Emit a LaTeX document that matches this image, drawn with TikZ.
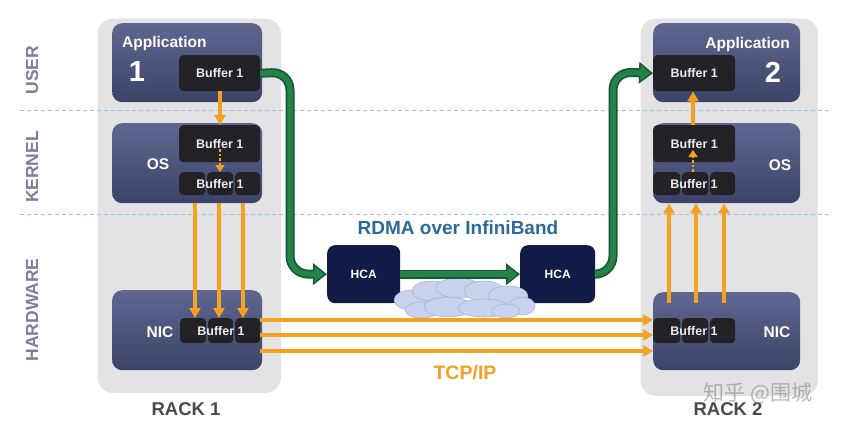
\documentclass[tikz,border=0pt]{standalone}
\usepackage{fontspec}
\setmainfont{Liberation Sans}
\newfontfamily\cjk{Noto Sans CJK SC}
\usetikzlibrary{arrows.meta,calc}
\definecolor{rackgray}{HTML}{E3E3E5}
\definecolor{boxtop}{HTML}{5F6791}
\definecolor{boxbot}{HTML}{3C4367}
\definecolor{bufc}{HTML}{232327}
\definecolor{hcac}{HTML}{121B46}
\definecolor{orng}{HTML}{F3A11E}
\definecolor{gdark}{HTML}{145A35}
\definecolor{glight}{HTML}{25834A}
\definecolor{dashc}{HTML}{A3C0D4}
\definecolor{layerc}{HTML}{7B7F9A}
\definecolor{rdmac}{HTML}{2D6A9A}
\definecolor{rackc}{HTML}{4A4A4A}
\definecolor{cloudf}{HTML}{CBD2EE}
\definecolor{cloudd}{HTML}{A8B2DA}
\begin{document}
\begin{tikzpicture}[x=1pt,y=-1pt,
  rack/.style={fill=rackgray, draw=white, line width=1.5pt, rounded corners=16pt, anchor=north west, inner sep=0pt},
  layerbox/.style={rounded corners=10pt, top color=boxtop, bottom color=boxbot, draw=none, anchor=north west, inner sep=0pt},
  buftext/.style={text=white!92!black, font=\bfseries\fontsize{12.5}{12.5}\selectfont, inner sep=0pt},
  bufbox/.style={fill=bufc, rounded corners=4pt, anchor=north west, inner sep=0pt, buftext},
  hcabox/.style={fill=hcac, rounded corners=8pt, anchor=north west, inner sep=0pt, text=white, font=\bfseries\fontsize{12}{12}\selectfont},
  wlabel/.style={text=white, font=\bfseries\fontsize{15.5}{15.5}\selectfont, inner sep=0pt},
  numlabel/.style={text=white, font=\bfseries\fontsize{29}{29}\selectfont, inner sep=0pt},
  layerlabel/.style={text=layerc, font=\bfseries\fontsize{17.5}{17.5}\selectfont, rotate=90, inner sep=0pt},
  racklabel/.style={text=rackc, font=\bfseries\fontsize{18.5}{18.5}\selectfont, inner sep=0pt},
  oarrow/.style={draw=orng, line width=3.4pt, -{Triangle[length=10pt,width=11pt]}},
  odot/.style={draw=orng, line width=2.6pt, dotted, -{Triangle[length=7pt,width=9pt]}},
  gouter/.style={draw=gdark, line width=9pt, rounded corners=18pt, -{Triangle[length=14pt,width=21pt]}},
  ginner/.style={draw=glight, line width=5.5pt, rounded corners=18pt, shorten >=2.5pt, -{Triangle[length=10pt,width=15pt]}},
  dashline/.style={draw=dashc, line width=0.9pt, dash pattern=on 4pt off 3pt},
  puff/.style={fill=cloudf, draw=cloudd, line width=0.6pt}
]
\useasboundingbox (0,0) rectangle (843,447);
\fill[white] (0,0) rectangle (843,447);

% racks
\node[rack, minimum width=185pt, minimum height=376pt] (rack1) at (96,17) {};
\node[rack, minimum width=179pt, minimum height=379pt] (rack2) at (639,17) {};

% dashed layer lines
\coordinate (d1a) at (20,110); \coordinate (d1b) at (830,110);
\coordinate (d2a) at (20,214); \coordinate (d2b) at (830,214);
\draw[dashline] (d1a) -- (d1b);
\draw[dashline] (d2a) -- (d2b);

% layer labels
\node[layerlabel] (luser) at (32,70) {USER};
\node[layerlabel] (lkernel) at (32,167) {KERNEL};
\node[layerlabel] (lhw) at (32,310) {HARDWARE};

% ---------- Rack 1 ----------
\node[layerbox, minimum width=150pt, minimum height=79pt] (app1) at (112,23) {};
\node[layerbox, minimum width=150pt, minimum height=80pt] (os1) at (112,123) {};
\node[layerbox, minimum width=150pt, minimum height=80pt] (nic1) at (112,290) {};
\node[wlabel, anchor=west] (app1t) at (122,43) {Application};
\node[numlabel] (app1n) at (137,72) {1};
\node[wlabel] (os1t) at (158,164) {OS};
\node[wlabel] (nic1t) at (160,332) {NIC};
\node[bufbox, minimum width=81pt, minimum height=36pt] (ab1) at (179,55) {Buffer 1};
\node[bufbox, minimum width=81pt, minimum height=37pt] (ob1) at (179,125) {Buffer 1};
\node[bufbox, minimum width=26pt, minimum height=23pt] (os11) at (179,172) {};
\node[bufbox, minimum width=26pt, minimum height=23pt] (os12) at (207,172) {};
\node[bufbox, minimum width=25pt, minimum height=23pt] (os13) at (235,172) {};
\node[buftext] (os1bt) at (220,184) {Buffer 1};
\node[bufbox, minimum width=26pt, minimum height=25pt] (nb11) at (180,318) {};
\node[bufbox, minimum width=25pt, minimum height=25pt] (nb12) at (208,318) {};
\node[bufbox, minimum width=25pt, minimum height=25pt] (nb13) at (235,318) {};
\node[buftext] (nb1t) at (221,331) {Buffer 1};
\node[racklabel] (r1t) at (186,409) {RACK 1};

% ---------- Rack 2 ----------
\node[layerbox, minimum width=147pt, minimum height=79pt] (app2) at (653,23) {};
\node[layerbox, minimum width=147pt, minimum height=80pt] (os2) at (653,123) {};
\node[layerbox, minimum width=147pt, minimum height=78pt] (nic2) at (653,292) {};
\node[wlabel, anchor=east] (app2t) at (790,44) {Application};
\node[numlabel] (app2n) at (773,72) {2};
\node[wlabel] (os2t) at (780,165) {OS};
\node[wlabel] (nic2t) at (777,332) {NIC};
\node[bufbox, minimum width=82pt, minimum height=36pt] (ab2) at (653,55) {Buffer 1};
\node[bufbox, minimum width=82pt, minimum height=37pt] (ob2) at (653,125) {Buffer 1};
\node[bufbox, minimum width=27pt, minimum height=23pt] (os21) at (653,172) {};
\node[bufbox, minimum width=26pt, minimum height=23pt] (os22) at (682,172) {};
\node[bufbox, minimum width=25pt, minimum height=23pt] (os23) at (710,172) {};
\node[buftext] (os2bt) at (694,184) {Buffer 1};
\node[bufbox, minimum width=27pt, minimum height=25pt] (nb21) at (653,318) {};
\node[bufbox, minimum width=26pt, minimum height=25pt] (nb22) at (682,318) {};
\node[bufbox, minimum width=25pt, minimum height=25pt] (nb23) at (710,318) {};
\node[buftext] (nb2t) at (694,331) {Buffer 1};
\node[racklabel] (r2t) at (728,409) {RACK 2};

% ---------- orange arrows rack 1 ----------
\draw[oarrow] (ab1.south -| 220,0) -- (ob1.north -| 220,0);
\draw[odot] (220,149) -- (os12.north -| 220,0);
\foreach \x in {195,219,243} {
  \draw[oarrow] (os1.south -| \x,0) -- (nb12.north -| \x,0);
}
% ---------- orange arrows rack 2 ----------
\draw[oarrow] (ob2.north -| 693,0) -- (ab2.south -| 693,0);
\draw[odot] (os22.north -| 693,0) -- (693,150);
\foreach \x in {669,696,724} {
  \draw[oarrow] (\x,303) -- (os2.south -| \x,0);
}

% ---------- TCP/IP lines ----------
\coordinate (t1s) at (260,320); \coordinate (t1e) at (653,320);
\coordinate (t2s) at (260,335); \coordinate (t2e) at (653,335);
\coordinate (t3s) at (260,351); \coordinate (t3e) at (653,351);
\draw[oarrow] (t1s) -- (t1e);
\draw[oarrow] (t2s) -- (t2e);
\draw[oarrow] (t3s) -- (t3e);
\node[text=orng, font=\bfseries\fontsize{19.5}{19.5}\selectfont, inner sep=0pt] (tcp) at (465,373) {TCP/IP};

% ---------- HCA and RDMA ----------
\node[hcabox, minimum width=73pt, minimum height=58pt] (hca1) at (327,245) {HCA};
\node[hcabox, minimum width=75pt, minimum height=58pt] (hca2) at (520,245) {HCA};
\node[text=rdmac, font=\bfseries\fontsize{19}{19}\selectfont, inner sep=0pt] (rdma) at (458,228) {RDMA over InfiniBand};

% cloud
\begin{scope}
\path[puff] (412,300) ellipse [x radius=18pt, y radius=10pt];
\path[puff] (432,291) ellipse [x radius=20pt, y radius=10pt];
\path[puff] (458,288) ellipse [x radius=22pt, y radius=10pt];
\path[puff] (484,291) ellipse [x radius=20pt, y radius=10pt];
\path[puff] (508,296) ellipse [x radius=20pt, y radius=10pt];
\path[puff] (522,306) ellipse [x radius=13pt, y radius=9pt];
\path[puff] (422,310) ellipse [x radius=17pt, y radius=8pt];
\path[puff] (448,307) ellipse [x radius=24pt, y radius=10pt];
\path[puff] (484,308) ellipse [x radius=26pt, y radius=9pt];
\path[puff] (506,311) ellipse [x radius=14pt, y radius=7pt];
\end{scope}

% green RDMA arrows
\coordinate (g1a) at (290,72); \coordinate (g1b) at (290,274);
\coordinate (g2a) at (613,274); \coordinate (g2b) at (613,72);
\draw[gouter] (ab1.east) -- (g1a) -- (g1b) -- (hca1.west);
\draw[ginner] (ab1.east) -- (g1a) -- (g1b) -- (hca1.west);
\draw[gouter] (hca1.east) -- (hca2.west);
\draw[ginner] (hca1.east) -- (hca2.west);
\draw[gouter] (hca2.east) -- (g2a) -- (g2b) -- (ab2.west);
\draw[ginner] (hca2.east) -- (g2a) -- (g2b) -- (ab2.west);

% watermark
\node[text=gray, opacity=0.55, font=\cjk\fontsize{21}{21}\selectfont, inner sep=0pt] (wm) at (758,393) {知乎 @围城};
\end{tikzpicture}
\end{document}
